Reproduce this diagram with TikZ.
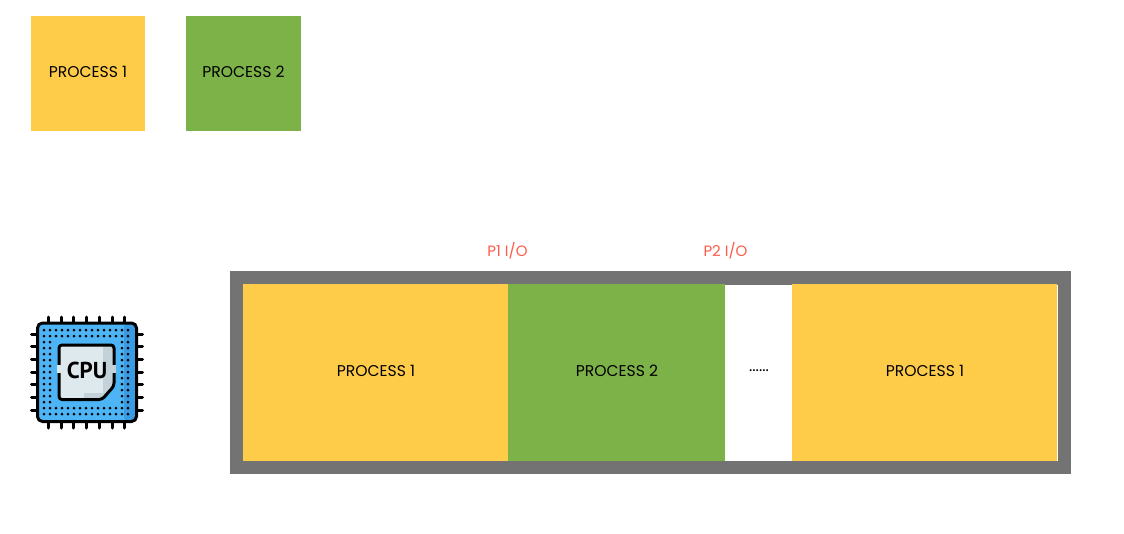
\documentclass[tikz,border=0pt]{standalone}
\usepackage{fontspec}
\setmainfont{Poppins}
\newfontfamily\cpufont{PT Sans}
\definecolor{pyellow}{HTML}{FFCC4A}
\definecolor{pgreen}{HTML}{7DB249}
\definecolor{frameg}{HTML}{737373}
\definecolor{iored}{HTML}{FF5A4A}
\definecolor{cpublue}{HTML}{4DB5F5}
\definecolor{cpudark}{HTML}{3A9AE2}
\definecolor{chiplight}{HTML}{DEE9EE}
\definecolor{chipshade}{HTML}{C3D2D8}
\tikzset{
  x=1pt,y=-1pt,
  lbl/.style={font=\fontsize{15.6}{18}\selectfont,text=black,inner sep=0pt},
  iolbl/.style={font=\fontsize{15}{18}\selectfont,text=iored,inner sep=0pt},
  boxy/.style={fill=pyellow,draw=none},
  boxg/.style={fill=pgreen,draw=none},
  pin/.style={line width=3pt,line cap=round,draw=black},
  outl/.style={line width=3pt,draw=black,line join=round}
}
\begin{document}
\begin{tikzpicture}
\useasboundingbox (0,0) rectangle (1124,533);
\fill[white] (0,0) rectangle (1124,533);
% legend
\fill[boxy] (30.5,16) rectangle (145.3,131);
\node[lbl] (legend1) at (88,72) {PROCESS 1};
\fill[boxg] (186,16) rectangle (301,131);
\node[lbl] (legend2) at (243.5,72) {PROCESS 2};
% timeline
\fill[frameg] (230,271) rectangle (1071,474);
\fill[white] (725,284.5) rectangle (793,460.5);
\fill[white] (1056,284.5) rectangle (1058,460.5);
\fill[boxy] (243,283.5) rectangle (508,461);
\fill[boxg] (508,283.5) rectangle (725,461);
\fill[boxy] (792.3,284) rectangle (1057,461);
\node[lbl] (seg1) at (376,370.5) {PROCESS 1};
\node[lbl] (seg2) at (617,371) {PROCESS 2};
\node[lbl] (seg3) at (759,371) {......};
\node[lbl] (seg4) at (925,371) {PROCESS 1};
\node[iolbl] (io1) at (507.5,251) {P1 I/O};
\node[iolbl] (io2) at (725.5,251) {P2 I/O};
% CPU icon
\foreach \p in {48.3,61,73.7,86.5,99.2,112,124.7}{
  \draw[pin] (\p,317) -- (\p,323);
  \draw[pin] (\p,422) -- (\p,428);
}
\foreach \p in {334,346.7,359.4,372,384.8,397.5,410.2}{
  \draw[pin] (31.5,\p) -- (37,\p);
  \draw[pin] (137,\p) -- (142.5,\p);
}
\fill[cpublue,rounded corners=4pt] (37.5,323) rectangle (136.5,421.5);
\fill[cpudark,rounded corners=4pt] (124,323) rectangle (136.5,421.5);
\foreach \i in {0,...,14}{\foreach \j in {0,...,14}{
  \pgfmathsetmacro{\dx}{44+6*\i}
  \pgfmathsetmacro{\dy}{330+6*\j}
  \fill[black] (\dx,\dy) circle[radius=1.5pt];
}}
\fill[cpublue] (53.5,339.5) rectangle (118,403.5);
\fill[chiplight] (59,345) -- (114,345) -- (114,386) -- (102,399.5) -- (59,399.5) -- cycle;
\fill[chipshade] (103,345) -- (114,345) -- (114,386) -- (102,399.5) -- (84,399.5) -- (84,393) -- (103,393) -- cycle;
\draw[outl,rounded corners=3pt] (59,345) -- (114,345) -- (114,386) -- (102,399.5) -- (59,399.5) -- cycle;
\draw[outl,rounded corners=5pt] (37.5,323) rectangle (136.5,421.5);
\fill[chiplight] (57,365) rectangle (61,373);
\fill[chipshade] (112,365) rectangle (116,373);
\node[font=\cpufont\bfseries\fontsize{23}{24}\selectfont,inner sep=0pt,text=black] (cpu) at (87,370.5) {CPU};
\end{tikzpicture}
\end{document}
